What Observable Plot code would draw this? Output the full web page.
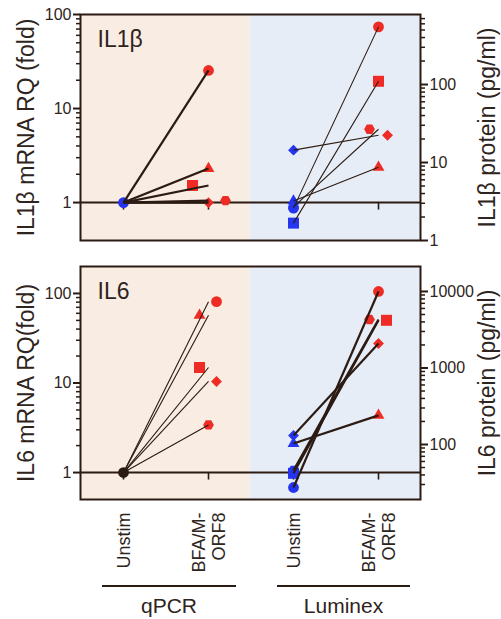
<!DOCTYPE html>
<html><head><meta charset="utf-8">
<script src="https://cdn.jsdelivr.net/npm/d3@7"></script>
<script src="https://cdn.jsdelivr.net/npm/@observablehq/plot@0.6"></script>
<style>
body{margin:0;background:#fff;font-family:"Liberation Sans",Arial,Helvetica,sans-serif;}
#chart{position:relative;width:501px;height:619px;overflow:hidden;color:#2e2420}
#chart svg{position:absolute;left:0}
.grp{position:absolute;font-size:21px;line-height:21px;text-align:center;color:#2e2420}
.bar{position:absolute;height:0;border-top:2.5px solid #2b1b12}
</style></head><body><div id="chart"></div>
<script>
// ---- data ----
const donors = ["circle", "triangle", "square", "diamond", "hexagon"];
const conditions = ["Unstim", "BFA/M-ORF8"];
const conditionLabels = ["Unstim", "BFA/M-\nORF8"];
const methods = ["qPCR", "Luminex"];

const il1bQpcrUnstim = [1, 1, 1, 1, 1];
const il1bQpcrStim   = [25.4, 2.3, 1.52, 1.0, 1.05];
const il1bLumUnstim  = [2.6, 3.2, 1.67, 14.4, 2.7];
const il1bLumStim    = [548, 8.7, 110, 22.4, 26.7];

const il6QpcrUnstim  = [1, 1, 1, 1, 1];
const il6QpcrStim    = [81, 57, 14.9, 10.4, 3.4];
const il6LumUnstim   = [27.4, 103, 42, 131, 46];
const il6LumStim     = [10000, 240, 4200, 2090, 4300];

const il1bRnaTicks   = [1, 10, 100];
const il1bRnaMinor   = [2, 3, 4, 5, 6, 7, 8, 9, 20, 30, 40, 50, 60, 70, 80, 90];
const il1bProtTicks  = [1, 10, 100];
const il1bProtMinor  = [2, 3, 4, 5, 6, 7, 8, 9, 20, 30, 40, 50, 60, 70, 80, 90, 200, 300, 400, 500, 600, 700];
const il6RnaTicks    = [1, 10, 100];
const il6RnaMinor    = [2, 3, 4, 5, 6, 7, 8, 9, 20, 30, 40, 50, 60, 70, 80, 90];
const il6ProtTicks   = [100, 1000, 10000];
const il6ProtMinor   = [30, 40, 50, 60, 70, 80, 90, 200, 300, 400, 500, 600, 700, 800, 900, 2000, 3000, 4000, 5000, 6000, 7000, 8000, 9000];

// ---- styles ----
const INK = "#2b1b12", TEXT = "#2e2420", RED = "#ee2b24", BLUE = "#2434ef", DARK = "#2a1a12";
const BG_Q = "#f9ede3", BG_L = "#e6edf7";
const FONT = "'Liberation Sans', Arial, Helvetica, sans-serif";
const hexSymbol = {draw(ctx, size) {
  const R = Math.sqrt(size / (1.5 * Math.sqrt(3)));
  for (let i = 0; i < 6; i++) { const a = i * Math.PI / 3; const x = R * Math.cos(a), y = R * Math.sin(a); i ? ctx.lineTo(x, y) : ctx.moveTo(x, y); }
  ctx.closePath();
}};
const tickSymbol = {draw(ctx) { ctx.moveTo(0, 0); ctx.lineTo(0, 7); }};
const symbolOf = {circle: "circle", triangle: "triangle", square: "square", diamond: "diamond2", hexagon: hexSymbol};
const rOf = {circle: 5.4, triangle: 4.4, square: 6.2, diamond: 4.9, hexagon: 4.9};
const drawOrder = ["triangle", "square", "diamond", "hexagon", "circle"];
// horizontal jitter (px) of the stimulated markers, per donor
const nudgeIl1bQ = [0, 0, -16, 0, 17];
const nudgeIl1bL = [0, 0, 0, 9, -9];
const nudgeIl6Q  = [8, -9, -9, 8, 0];
const nudgeIl6L  = [0, 0, 8, 0, -9];

const K = (m, c) => m + "|" + c;
const xDomain = methods.flatMap(m => conditions.map(c => K(m, c)));
const labelOf = k => conditionLabels[conditions.indexOf(k.split("|")[1])];

function pointMarks(values, key, fill, nudge) {
  return drawOrder.map(s => {
    const i = donors.indexOf(s);
    return Plot.dot([values[i]], {x: () => key, y: d => d, symbol: symbolOf[s], r: rOf[s], fill, stroke: "none", dx: nudge ? nudge[i] : 0});
  });
}
function linkMark(u, s, method, width) {
  const rows = donors.map((d, i) => ({u: u[i], s: s[i]}));
  return Plot.link(rows, {x1: () => K(method, conditions[0]), x2: () => K(method, conditions[1]), y1: "u", y2: "s", stroke: INK, strokeWidth: width});
}
function yAxes(ticks, minor, anchor) {
  return [
    Plot.axisY(minor, {anchor, tickSize: 4, tickFormat: () => "", stroke: INK, strokeWidth: 1.5, label: null}),
    Plot.axisY(ticks, {anchor, tickSize: 7, tickPadding: 2, tickFormat: d => String(d), stroke: INK, strokeWidth: 2, fontSize: 16, label: null})
  ];
}

function panel(o) {
  const common = {
    width: 501, height: o.height, marginLeft: 80, marginRight: 81, marginTop: o.marginTop, marginBottom: o.marginBottom,
    style: {background: "transparent", fontFamily: FONT, fontSize: "16px", color: TEXT, overflow: "visible"},
    x: {type: "point", domain: xDomain, padding: 0.5, axis: null}
  };
  const a = Plot.plot({
    ...common,
    y: {type: "log", domain: o.rnaDomain, axis: null},
    marks: [
      Plot.frame({fill: BG_Q, stroke: "none", insetRight: 171}),
      Plot.frame({fill: BG_L, stroke: "none", insetLeft: 169}),
      Plot.ruleY([1], {stroke: INK, strokeWidth: 2}),
      Plot.dot(xDomain, {x: d => d, y: () => 1, symbol: tickSymbol, r: 3, fill: "none", stroke: INK, strokeWidth: 1.6}),
      Plot.dot([o.qU[0]], {x: () => K("qPCR", conditions[0]), y: d => d, symbol: "circle", r: 5.4, fill: o.qUFill, stroke: "none"}),
      ...pointMarks(o.qS, K("qPCR", conditions[1]), RED, o.nudgeQ),
      linkMark(o.qU, o.qS, "qPCR", o.qW),
      ...yAxes(o.rnaTicks, o.rnaMinor, "left"),
      Plot.text([o.title], {text: d => d, frameAnchor: "top-left", dx: 17, dy: 16, textAnchor: "start", lineAnchor: "top", fontSize: 23, fill: TEXT}),
      Plot.text([o.rnaLabel], {text: d => d, frameAnchor: "left", rotate: -90, dx: -54, textAnchor: "middle", lineAnchor: "middle", fontSize: 23, fill: TEXT}),
      Plot.frame({stroke: INK, strokeWidth: 2}),
      ...(o.showX ? [Plot.axisX({anchor: "bottom", tickSize: 0, tickPadding: 13, tickRotate: -90, tickFormat: labelOf, fontSize: 18, textAnchor: "end", lineAnchor: "middle", lineHeight: 1.15, label: null})] : [])
    ]
  });
  const b = Plot.plot({
    ...common,
    y: {type: "log", domain: o.protDomain, axis: null},
    marks: [
      ...pointMarks(o.lU, K("Luminex", conditions[0]), BLUE, null),
      ...pointMarks(o.lS, K("Luminex", conditions[1]), RED, o.nudgeL),
      linkMark(o.lU, o.lS, "Luminex", o.lW),
      ...yAxes(o.protTicks, o.protMinor, "right"),
      Plot.text([o.protLabel], {text: d => d, frameAnchor: "right", rotate: -90, dx: 67, textAnchor: "middle", lineAnchor: "middle", fontSize: 23, fill: TEXT})
    ]
  });
  for (const s of [a, b]) { s.style.top = o.top + "px"; document.getElementById("chart").appendChild(s); }
}

panel({top: 0, height: 260, marginTop: 14, marginBottom: 20,
  rnaDomain: [0.395, 100], protDomain: [1, 790],
  rnaTicks: il1bRnaTicks, rnaMinor: il1bRnaMinor, protTicks: il1bProtTicks, protMinor: il1bProtMinor,
  qU: il1bQpcrUnstim, qS: il1bQpcrStim, lU: il1bLumUnstim, lS: il1bLumStim,
  qUFill: BLUE, qW: 2.2, lW: 1.1, nudgeQ: nudgeIl1bQ, nudgeL: nudgeIl1bL,
  title: "IL1β", rnaLabel: "IL1β mRNA RQ (fold)", protLabel: "IL1β protein (pg/ml)", showX: false});

panel({top: 250, height: 369, marginTop: 16, marginBottom: 120,
  rnaDomain: [0.5, 200], protDomain: [19.1, 21200],
  rnaTicks: il6RnaTicks, rnaMinor: il6RnaMinor, protTicks: il6ProtTicks, protMinor: il6ProtMinor,
  qU: il6QpcrUnstim, qS: il6QpcrStim, lU: il6LumUnstim, lS: il6LumStim,
  qUFill: DARK, qW: 1.1, lW: 2.2, nudgeQ: nudgeIl6Q, nudgeL: nudgeIl6L,
  title: "IL6", rnaLabel: "IL6 mRNA RQ(fold)", protLabel: "IL6 protein (pg/ml)", showX: true});

// group labels under the x axis
const chart = document.getElementById("chart");
[[methods[0], 102, 134], [methods[1], 277, 133]].forEach(([name, left, w]) => {
  const bar = document.createElement("div"); bar.className = "bar";
  bar.style.left = left + "px"; bar.style.top = "585px"; bar.style.width = w + "px";
  const t = document.createElement("div"); t.className = "grp";
  t.style.left = left + "px"; t.style.top = "595px"; t.style.width = w + "px"; t.textContent = name;
  chart.appendChild(bar); chart.appendChild(t);
});
</script></body></html>
